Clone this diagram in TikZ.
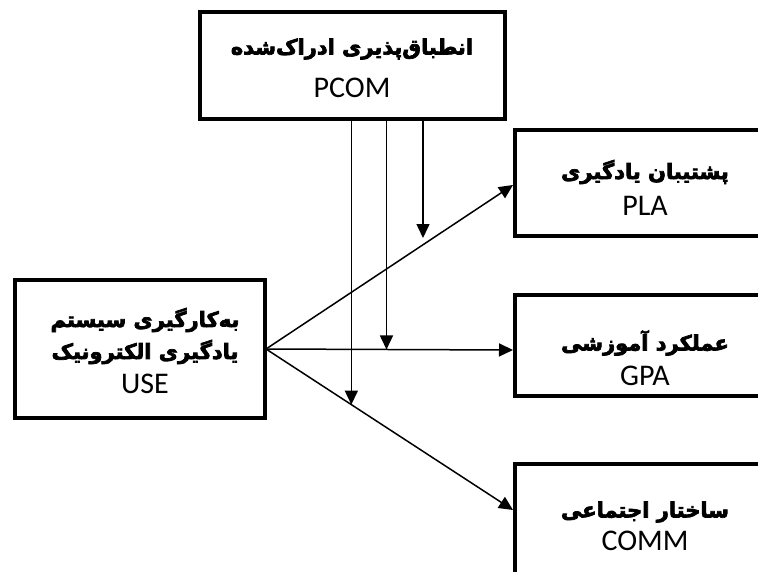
\documentclass[tikz,border=0pt]{standalone}
\usepackage{fontspec}
\setmainfont{Carlito}
\newfontfamily\fa[Script=Arabic]{DejaVu Sans}
\TeXXeTstate=1
\usetikzlibrary{arrows.meta,calc}
\newcommand\heavytext[1]{\special{pdf:literal 2 Tr 0.7 w}#1\special{pdf:literal 0 Tr}}
\begin{document}
\begin{tikzpicture}[x=1pt,y=-1pt,
  box/.style={draw,line width=4pt,inner sep=0pt,rectangle},
  fat/.style={font=\fa\bfseries\fontsize{21}{25}\selectfont,inner sep=0pt},
  lat/.style={font=\fontsize{30}{35}\selectfont,inner sep=0pt},
  arr/.style={line width=1.5pt,-{Triangle[length=14pt,width=13pt]}}]
\useasboundingbox (0,0) rectangle (758,571);
\begin{scope}
\clip (0,0) rectangle (758,571);
\node[box,minimum width=305pt,minimum height=107pt] (pcom) at (352.5,65.5) {};
\node[box,minimum width=250pt,minimum height=138pt] (use) at (140,349) {};
\node[box,minimum width=262pt,minimum height=106pt] (pla) at (646,183) {};
\node[box,minimum width=262pt,minimum height=101pt] (gpa) at (646,345.5) {};
\node[box,minimum width=262pt,minimum height=136pt] (comm) at (646,532) {};
\end{scope}
\node[fat] (pcomf) at (352,49) {\heavytext{\beginR انطباق‌پذیری ادراک‌شده\endR}};
\node[lat] (pcoml) at (352,88) {PCOM};
\node[fat] (usef1) at (145,320) {\heavytext{\beginR به‌کارگیری سیستم\endR}};
\node[fat] (usef2) at (145,352) {\heavytext{\beginR یادگیری الکترونیک\endR}};
\node[lat] (usel) at (145,384) {USE};
\node[fat] (plaf) at (645,172) {\heavytext{\beginR پشتیبان یادگیری\endR}};
\node[lat] (plal) at (645,206) {PLA};
\node[fat] (gpaf) at (645,343) {\heavytext{\beginR عملکرد آموزشی\endR}};
\node[lat] (gpal) at (645,376) {GPA};
\node[fat] (commf) at (645,512) {\heavytext{\beginR ساختار اجتماعی\endR}};
\node[lat] (comml) at (645,541) {COMM};
\coordinate (src) at ($(use.east)+(-1,0)$);
\draw[arr] (src) -- (pla.west |- 0,185) coordinate (tpla);
\draw[arr] (src) -- (gpa.west |- 0,350) coordinate (tgpa);
\draw[arr] (src) -- (comm.west |- 0,510) coordinate (tcomm);
\coordinate (t1) at ($(src)!0.3455!(tcomm)$);
\coordinate (t2) at ($(src)!0.4878!(tgpa)$);
\coordinate (t3) at (423,238);
\draw[arr] (pcom.south -| t1) -- (t1);
\draw[arr] (pcom.south -| t2) -- (t2);
\draw[arr] (pcom.south -| t3) -- (t3);
\end{tikzpicture}
\end{document}
